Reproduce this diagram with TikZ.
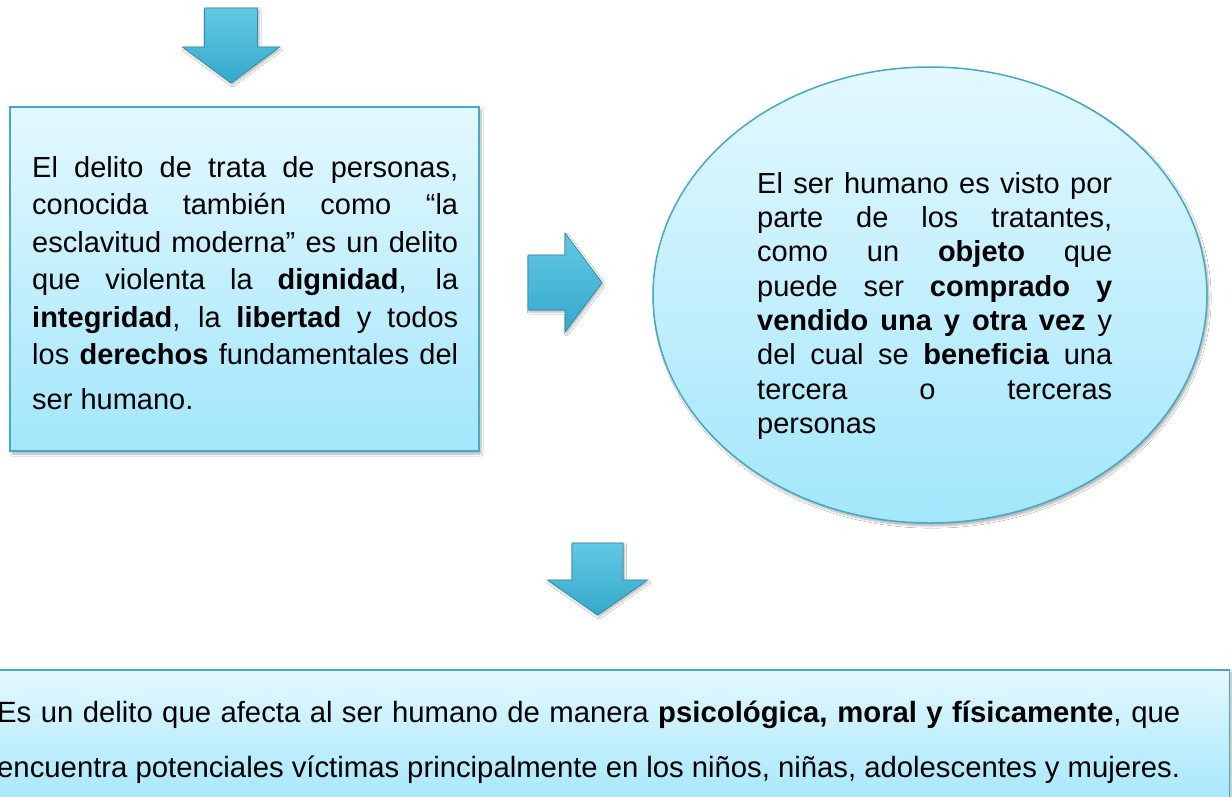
\documentclass[tikz,border=0pt]{standalone}
\usepackage{fontspec}
\setmainfont{Liberation Sans}
\usetikzlibrary{positioning,shapes.geometric,shadows.blur}
\definecolor{rimblue}{HTML}{45A8C5}
\definecolor{paletop}{HTML}{E3F8FE}
\definecolor{palebot}{HTML}{A3E6FB}
\definecolor{arwlight}{HTML}{62C8E3}
\definecolor{arwblue}{HTML}{35A9CB}
\definecolor{arwdark}{HTML}{2A8FB0}
\newcommand{\firstln}{\rule{0pt}{24pt}}
\tikzset{
  panel/.style={draw=rimblue, line width=1.5pt, top color=paletop, bottom color=palebot,
    blur shadow={shadow xshift=2pt, shadow yshift=-3pt, shadow blur steps=6, shadow opacity=30}},
  bodytext/.style={inner sep=0pt, anchor=north west, align=justify,
    font=\fontsize{29}{37.5}\selectfont},
  blockarw/.style={draw=arwdark, line width=0.6pt, top color=arwlight, bottom color=arwblue,
    blur shadow={shadow xshift=1.5pt, shadow yshift=-2pt, shadow blur steps=5, shadow opacity=30}}
}

\begin{document}
\begin{tikzpicture}[x=1pt,y=-1pt]
\clip (0,0) rectangle (1232,796);
\fill[white] (0,0) rectangle (1232,796);
%block arrows
\filldraw[blockarw] (204.5,8) -- (257.5,8) -- (257.5,47) -- (279.5,47) -- (231,83)
  -- (182.5,47) -- (204.5,47) -- cycle;
\filldraw[blockarw] (528,255) -- (565,255) -- (565,233) -- (602,282.5) -- (565,332)
  -- (565,310) -- (528,310) -- cycle;
\filldraw[blockarw] (572,543) -- (623,543) -- (623,580) -- (647.5,580) -- (597.5,615)
  -- (547.5,580) -- (572,580) -- cycle;
%left box
\node[panel, minimum width=469pt, minimum height=344pt, inner sep=0pt] (delito) at (244.5,279) {};
\node[bodytext, text width=426pt] (delitotxt) at (32,153) {\firstln El delito de trata de personas,\linebreak
  conocida también como “la\linebreak
  esclavitud moderna” es un delito\linebreak
  que violenta la \textbf{dignidad}, la\linebreak
  \textbf{integridad}, la \textbf{libertad} y todos\linebreak
  los \textbf{derechos} fundamentales del\vadjust{\vskip 7pt}\linebreak
  ser humano.};
%ellipse
\node[panel, ellipse, minimum width=554pt, minimum height=456pt, inner sep=0pt] (visto) at (930,295) {};
\node[bodytext, text width=355pt, font=\fontsize{29}{34.3}\selectfont] (vistotxt) at (757,169)
  {\firstln El ser humano es visto por\linebreak
  parte de los tratantes,\linebreak
  como un \textbf{objeto} que\linebreak
  puede ser \textbf{comprado y}\linebreak
  \textbf{vendido una y otra vez} y\linebreak
  del cual se \textbf{beneficia} una\linebreak
  tercera o terceras\linebreak
  personas};
%bottom box
\node[panel, minimum width=1270pt, minimum height=140pt, inner sep=0pt, anchor=north east] (afecta) at (1230,669) {};
\node[bodytext, text width=1183pt, font=\fontsize{29.3}{55}\selectfont] (afectatxt) at (-3,698)
  {\firstln Es un delito que afecta al ser humano de manera \textbf{psicológica, moral y físicamente}, que\linebreak
  encuentra potenciales víctimas principalmente en los niños, niñas, adolescentes y mujeres.};
\end{tikzpicture}
\end{document}
